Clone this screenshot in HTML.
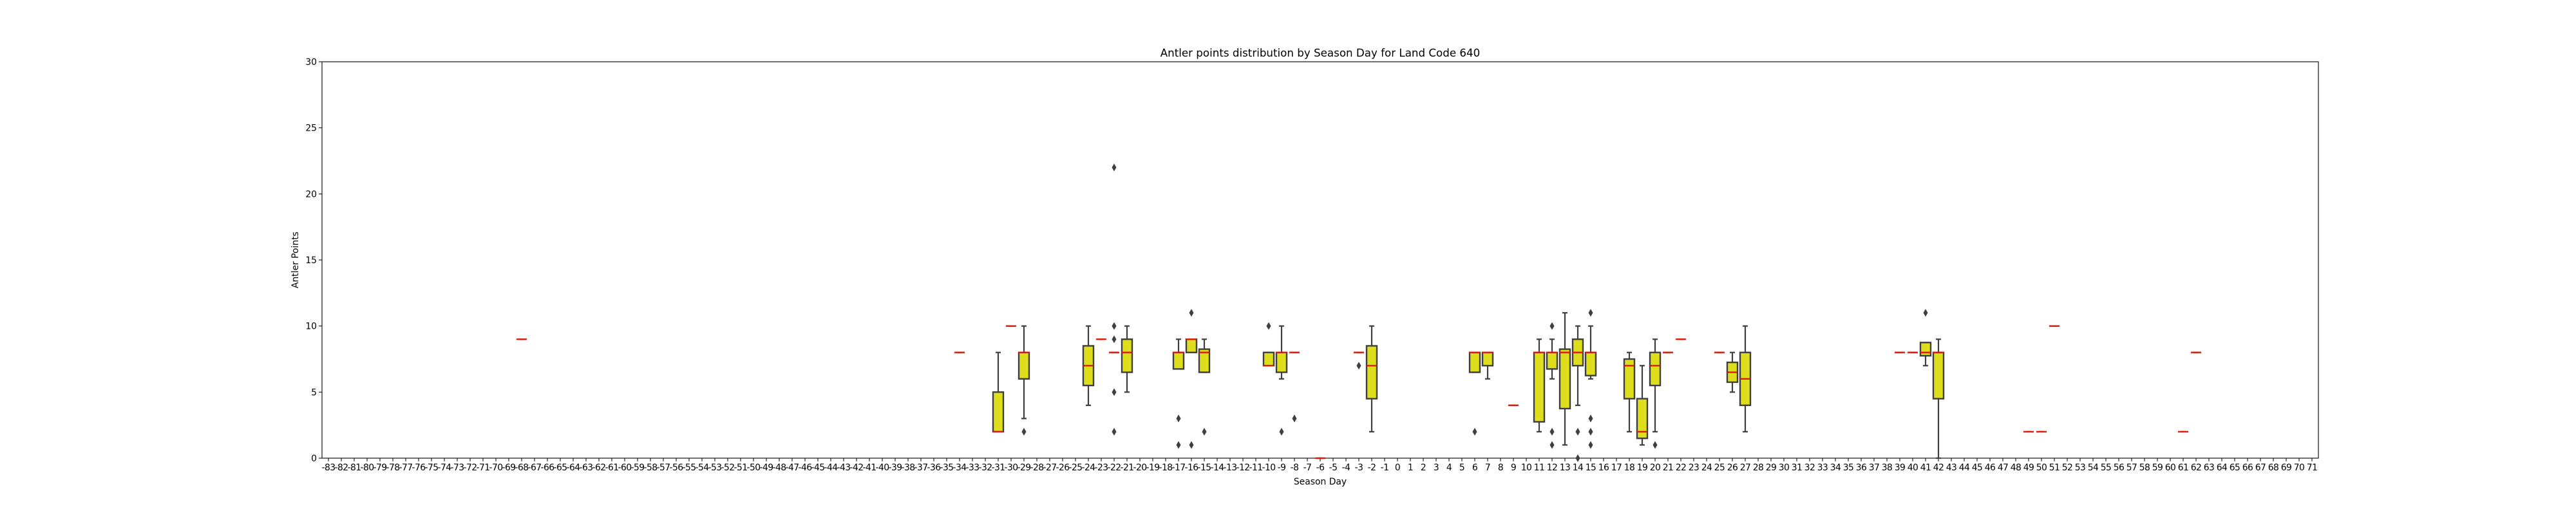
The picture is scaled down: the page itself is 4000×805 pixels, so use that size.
<!DOCTYPE html>
<html><head><meta charset="utf-8">
<style>
html,body{margin:0;padding:0;background:#fff;}
svg text{font-family:"DejaVu Sans","Liberation Sans",sans-serif;fill:#000;}
</style></head>
<body>
<svg id="chart" width="4000" height="800" xmlns="http://www.w3.org/2000/svg">
<rect width="4000" height="800" fill="#fff"/>
<text x="2050" y="88" font-size="16.7" text-anchor="middle">Antler points distribution by Season Day for Land Code 640</text>
<text x="2050" y="753" font-size="13.9" text-anchor="middle">Season Day</text>
<text x="0" y="0" font-size="13.9" text-anchor="middle" transform="translate(463,404) rotate(-90)">Antler Points</text>
<g id="plot"></g>
</svg>
<script>
// data arrays
const dayMin = -83, dayMax = 71;
const days =   [-68,-34,-31,-30,-29,-24,-23,-22,-21,-17,-16,-15,-10,-9,-8,-6,-3,-2,6,7,9,11,12,13,14,15,18,19,20,21,22,25,26,27,39,40,41,42,49,50,51,61,62];
const q1Vals = [9,8,2,10,6,5.5,9,8,6.5,6.75,8,6.5,7,6.5,8,0,8,4.5,6.5,7,4,2.75,6.75,3.75,7,6.25,4.5,1.5,5.5,8,9,8,5.75,4,8,8,7.75,4.5,2,2,10,2,8];
const medVals= [9,8,2,10,8,7,9,8,8,8,9,8,7,8,8,0,8,7,8,8,4,8,8,8,8,8,7,2,7,8,9,8,6.5,6,8,8,8,8,2,2,10,2,8];
const q3Vals = [9,8,5,10,8,8.5,9,8,9,8,9,8.25,8,8,8,0,8,8.5,8,8,4,8,8,8.25,9,8,7.5,4.5,8,8,9,8,7.25,8,8,8,8.75,8,2,2,10,2,8];
const loVals = [9,8,2,10,3,4,9,8,5,6.75,8,6.5,7,6,8,0,8,2,6.5,6,4,2,6,1,4,6,2,1,2,8,9,8,5,2,8,8,7,0,2,2,10,2,8];
const hiVals = [9,8,8,10,10,10,9,8,10,9,9,9,8,10,8,0,8,10,8,8,4,9,9,11,10,10,8,7,9,8,9,8,8,10,8,8,8.75,9,2,2,10,2,8];
const outliers=[[],[],[],[],[2],[],[],[22,10,9,5,2],[],[3,1],[11,1],[2],[10],[2],[3],[],[7],[],[2],[],[],[],[10,2,1],[],[2,0],[11,3,2,1],[],[],[1],[],[],[],[],[],[],[],[11],[],[],[],[],[],[]];
const yTicks = [0,5,10,15,20,25,30];

const NS="http://www.w3.org/2000/svg";
const L=500,R=3600,T=96,B=712,yMax=30;
const nCat=dayMax-dayMin+1, band=(R-L)/nCat;
const xs=d=>L+(d-dayMin+0.5)*band;
const ys=v=>B-(v/yMax)*(B-T);
const plot=document.getElementById('plot');
function mk(tag,attrs,parent){const e=document.createElementNS(NS,tag);for(const k in attrs)e.setAttribute(k,attrs[k]);(parent||plot).appendChild(e);return e;}

// axes frame
const frame=mk('rect',{x:L,y:T,width:R-L,height:B-T,fill:'none',stroke:'#000','stroke-width':1.1});



// y ticks
yTicks.forEach(v=>{
  const y=ys(v);
  const t=mk('line',{x1:L-5,x2:L,y1:y,y2:y,stroke:'#000','stroke-width':1});
  
  
  const lb=mk('text',{x:L-8,y:y+5,'font-size':13.9,'text-anchor':'end'});
  lb.textContent=v;
  
  
});
// x ticks
for(let d=dayMin;d<=dayMax;d++){
  const x=xs(d);
  const t=mk('line',{x1:x,x2:x,y1:B,y2:B+5,stroke:'#000','stroke-width':1});
  
  
  const lb=mk('text',{x:x,y:B+19,'font-size':13.9,'text-anchor':'middle','letter-spacing':'-0.6'});
  lb.textContent=d;
  
  
}

// boxes
const edge='#3f3f3f', fill='#dede1d', bw=band*0.8;
days.forEach((d,i)=>{
  const cx=xs(d);
  const g=mk('g',{});
  
  
  const yq1=ys(q1Vals[i]), yq3=ys(q3Vals[i]), ylo=ys(loVals[i]), yhi=ys(hiVals[i]), ym=ys(medVals[i]);
  mk('line',{x1:cx,x2:cx,y1:yq3,y2:yhi,stroke:edge,'stroke-width':2.2},g);
  mk('line',{x1:cx,x2:cx,y1:yq1,y2:ylo,stroke:edge,'stroke-width':2.2},g);
  mk('line',{x1:cx-bw/4,x2:cx+bw/4,y1:yhi,y2:yhi,stroke:edge,'stroke-width':2.2},g);
  mk('line',{x1:cx-bw/4,x2:cx+bw/4,y1:ylo,y2:ylo,stroke:edge,'stroke-width':2.2},g);
  if(yq1-yq3>0.5) mk('rect',{x:cx-bw/2,y:yq3,width:bw,height:yq1-yq3,fill:fill,stroke:edge,'stroke-width':2.4},g);
  mk('line',{x1:cx-bw/2,x2:cx+bw/2,y1:ym,y2:ym,stroke:'#e01a0e','stroke-width':2.4},g);
  outliers[i].forEach(v=>{
    const oy=ys(v);
    const p=mk('polygon',{points:`${cx},${oy-6} ${cx+3.5},${oy} ${cx},${oy+6} ${cx-3.5},${oy}`,fill:edge},g);
    
    
  });
});
</script>
</body></html>
